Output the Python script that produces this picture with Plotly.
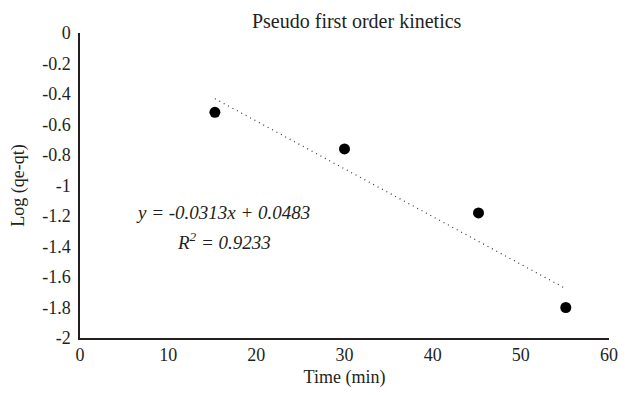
import plotly.graph_objects as go
import numpy as np

time_min = [15.3, 30.0, 45.2, 55.1]
log_qe_qt = [-0.52, -0.76, -1.18, -1.80]
slope = -0.0313
intercept = 0.0483
x_ticks = [0, 10, 20, 30, 40, 50, 60]
y_ticks = [0, -0.2, -0.4, -0.6, -0.8, -1, -1.2, -1.4, -1.6, -1.8, -2]

FONT = "Liberation Serif"
TXT = "#231f20"

trend_x = np.array([min(time_min), max(time_min)])
trend_y = slope * trend_x + intercept

fig = go.Figure()
fig.add_trace(go.Scatter(x=trend_x, y=trend_y, mode="lines",
                         line=dict(color="#333333", width=1.2, dash="1px,4px"),
                         showlegend=False, hoverinfo="skip"))
fig.add_trace(go.Scatter(x=time_min, y=log_qe_qt, mode="markers",
                         marker=dict(color="#000000", size=11),
                         showlegend=False))

fig.add_annotation(x=0.270, y=0.411, xref="paper", yref="paper",
                   xanchor="center", yanchor="middle",
                   text="<i>y = -0.0313x + 0.0483</i>", showarrow=False,
                   font=dict(family=FONT, size=19, color=TXT))
fig.add_annotation(x=0.272, y=0.318, xref="paper", yref="paper",
                   xanchor="center", yanchor="middle",
                   text="<i>R<sup>2</sup> = 0.9233</i>", showarrow=False,
                   font=dict(family=FONT, size=19, color=TXT))

fig.update_layout(
    width=629, height=395,
    margin=dict(l=80, r=11, t=33, b=57),
    paper_bgcolor="white", plot_bgcolor="white",
    font=dict(family=FONT, size=18, color=TXT),
    title=dict(text="Pseudo first order kinetics", x=0.567, xanchor="center",
               y=0.948, yanchor="middle", font=dict(family=FONT, size=20, color=TXT)),
    xaxis=dict(range=[0, 60], tickvals=x_ticks, ticktext=[str(v) for v in x_ticks],
               showgrid=False, zeroline=False, showline=True, linecolor="#231f20",
               linewidth=1.5, ticks="", ticklen=0,
               tickfont=dict(family=FONT, size=18, color=TXT),
               title=dict(text="Time (min)", standoff=6, font=dict(family=FONT, size=18))),
    yaxis=dict(range=[-2, 0], tickvals=y_ticks, ticktext=[f"{v:g}" for v in y_ticks],
               showgrid=False, zeroline=False, showline=True, linecolor="#231f20",
               linewidth=1.5, ticks="", ticklen=0, ticklabelstandoff=4,
               tickfont=dict(family=FONT, size=18, color=TXT),
               title=dict(text="Log (qe-qt)", standoff=13, font=dict(family=FONT, size=18))),
)

fig.write_html("out.html")
